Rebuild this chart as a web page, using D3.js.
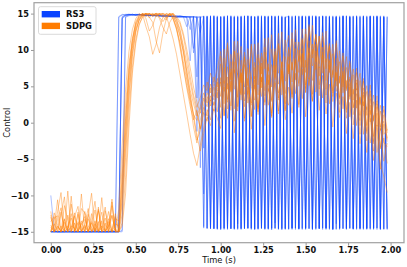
<!DOCTYPE html>
<html>
<head>
<meta charset="utf-8">
<script src="https://cdn.jsdelivr.net/npm/d3@7"></script>
<style>
  body { margin: 0; background: #fff; }
  svg { display: block; font-family: "DejaVu Sans", sans-serif; }
</style>
</head>
<body>
<script>
// time stamps (s), one sample every 0.02 s
var time = [
  0.00,0.02,0.04,0.06,0.08,0.10,0.12,0.14,0.16,0.18,
  0.20,0.22,0.24,0.26,0.28,0.30,0.32,0.34,0.36,0.38,
  0.40,0.42,0.44,0.46,0.48,0.50,0.52,0.54,0.56,0.58,
  0.60,0.62,0.64,0.66,0.68,0.70,0.72,0.74,0.76,0.78,
  0.80,0.82,0.84,0.86,0.88,0.90,0.92,0.94,0.96,0.98,
  1.00,1.02,1.04,1.06,1.08,1.10,1.12,1.14,1.16,1.18,
  1.20,1.22,1.24,1.26,1.28,1.30,1.32,1.34,1.36,1.38,
  1.40,1.42,1.44,1.46,1.48,1.50,1.52,1.54,1.56,1.58,
  1.60,1.62,1.64,1.66,1.68,1.70,1.72,1.74,1.76,1.78,
  1.80,1.82,1.84,1.86,1.88,1.90,1.92,1.94,1.96,1.98
];

// RS3 runs
var rs3A = [
  -15,-15,-15,-15,-15,-15,-15,-15,-15,-15,
  -15,-15,-15,-15,-15,-15,-15,-15,-15,-15,
  -15,14.6,14.8,14.9,14.8,14.9,14.8,14.8,14.9,14.8,
  14.8,14.7,14.8,14.7,14.8,14.7,14.7,14.6,14.7,14.6,
  14.6,14.5,10.2,14.6,1.8,14.7,-14.5,14.6,-14.6,14.7,
  -14.5,14.6,-14.7,14.5,-14.6,14.7,-14.5,14.6,-14.6,14.7,
  -14.6,14.7,-14.5,14.6,-14.7,14.6,-14.5,14.7,-14.6,14.5,
  -14.7,14.6,-14.5,14.7,-14.6,14.6,-14.5,14.7,-14.6,14.6,
  -14.5,14.7,-14.6,14.6,-14.7,14.5,-14.6,14.7,-14.5,14.6,
  -14.6,14.7,-14.5,14.6,-14.7,14.6,-14.5,14.7,-14.6,14.5
];
var rs3B = [
  -10,-14.8,-15,-15,-15,-15,-15,-15,-15,-15,
  -15,-15,-15,-15,-15,-15,-15,-15,-15,-15,
  14.5,14.8,14.9,14.9,14.8,14.8,14.9,14.8,14.7,14.8,
  14.7,14.8,14.7,14.7,14.6,14.7,14.6,14.6,14.7,14.6,
  14.5,14.6,14.5,6.3,14.6,-3.5,14.6,-14.4,14.7,-14.6,
  14.6,-14.5,14.7,-14.6,14.5,-13.9,14.6,-14.5,14.7,-14.6,
  14.6,-14.5,14.7,-14.6,14.5,-14.7,14.6,-14.5,14.6,-14.6,
  14.7,-14.5,14.6,-14.7,14.5,-14.6,14.7,-14.5,14.6,-14.6,
  14.7,-14.5,14.6,-14.7,14.6,-14.5,14.7,-14.6,14.6,-14.5,
  14.7,-14.6,14.5,-14.7,14.6,-14.5,14.7,-14.6,14.6,-14.7
];
var rs3C = [
  -15,-15,-15,-15,-15,-14.6,-15,-15,-15,-15,
  -15,-15,-15,-15,-15,-15,-15,-15,-15,-15,
  -15,-14.8,14.5,14.7,14.8,14.9,14.9,14.8,14.8,14.8,
  14.7,14.8,14.7,14.8,14.7,14.7,14.6,14.7,14.6,14.6,
  14.6,14.5,14.6,14.5,12.4,14.6,4.1,14.6,-14.6,14.5,
  -14.7,14.6,-14.5,14.7,-14.6,14.5,-14.7,14.6,-14.5,14.6,
  -14.6,14.7,-14.5,14.6,-14.6,14.7,-13.8,14.6,-14.7,14.5,
  -14.6,14.7,-14.5,14.6,-14.7,14.5,-14.6,14.7,-14.5,14.6,
  -14.7,14.6,-14.5,14.7,-14.6,14.5,-14.6,14.7,-14.5,14.6,
  -14.7,14.5,-14.6,14.7,-14.5,14.6,-14.7,14.5,-14.6,14.6
];
var rs3D = [
  -15,-14.9,-15,-15,-15,-15,-15,-15,-15,-15,
  -15,-15,-15,-15,-15,-15,-15,-15,-15,-15,
  -15,14.3,14.7,14.8,14.9,14.8,14.8,14.9,14.8,14.7,
  14.8,14.7,14.7,14.6,14.7,14.6,14.6,14.5,14.6,14.5,
  14.5,8.5,14.6,-1.2,14.5,-9.8,14.6,-14.5,14.7,-14.6,
  14.5,-14.6,14.7,-14.5,14.6,-14.7,14.5,-14.6,14.7,-14.5,
  14.6,-14.6,14.5,-14.7,14.6,-14.5,14.7,-14.6,14.5,-14.7,
  14.6,-14.5,14.7,-14.6,14.6,-14.5,14.7,-14.7,14.5,-14.6,
  14.6,-14.5,14.7,-14.6,14.5,-14.7,14.6,-14.5,14.7,-14.6,
  14.5,-14.6,14.7,-14.5,14.6,-14.7,14.6,-14.5,14.7,-14.6
];
var rs3E = [
  -15,-15,-15,-15,-15,-15,-15,-15,-15,-15,
  -15,-15,-15,-14.7,-15,-15,-15,-15,-15,-15,
  -15,14.4,14.8,14.9,14.9,14.8,14.9,14.8,14.8,14.7,
  14.8,14.8,14.7,14.7,14.6,14.7,14.6,14.6,14.5,14.6,
  14.5,14.6,14.5,14.6,14.5,14.6,-14.6,14.7,-14.5,14.6,
  -14.7,14.5,-14.6,14.7,-14.5,14.6,-14.6,14.7,-14.5,14.6,
  -14.7,14.6,-14.5,14.6,-14.6,14.7,-14.5,14.6,-14.7,14.5,
  14.6,-14.6,14.7,-14.5,14.6,-14.7,14.5,-14.6,14.7,-14.5,
  14.6,-14.6,14.5,-14.7,14.6,-14.5,14.7,-14.6,14.5,-14.7,
  14.6,-14.5,14.7,-14.6,14.6,-14.5,14.7,-14.6,14.5,-14.7
];
var rs3F = [
  -15,-15,-15,-15,-15,-15,-15,-15,-15,-15,
  -15,-15,-15,-15,-15,-15,-15,-15,-14.8,-15,
  14.6,14.9,14.8,14.9,14.8,14.8,14.8,14.9,14.7,14.8,
  14.7,14.7,14.8,14.6,14.7,14.6,14.7,14.5,14.6,14.5,
  14.6,14.5,14.6,14.4,14.6,-14.5,14.7,-14.6,14.5,-14.7,
  14.6,-14.5,14.7,-14.6,14.5,-14.6,14.7,-14.5,14.6,-14.7,
  14.5,-14.6,14.7,-14.5,14.6,-14.7,14.5,-14.6,14.7,-14.5,
  14.6,-14.7,14.5,-14.6,14.7,-14.5,14.6,-14.6,14.7,-14.5,
  14.6,-14.7,14.5,-14.6,14.7,-14.5,14.6,-14.7,14.5,-14.6,
  14.7,-14.5,14.6,-14.6,14.7,-14.5,14.6,-14.7,14.5,-14.6
];
var rs3G = [
  -15,-15,-15,-15,-15,-15,-15,-15,-15,-15,
  -15,-15,-15,-15,-15,-15,-15,-15,-15,-15,
  -15,-15,14.6,14.8,14.9,14.8,14.9,14.8,14.7,14.8,
  14.7,14.7,14.8,14.6,14.7,14.6,14.6,14.7,14.5,14.6,
  13.2,14.6,9.6,14.5,-6.2,14.6,-14.5,14.7,-14.6,14.5,
  -14.6,14.7,-14.5,14.6,-14.7,14.5,-14.6,14.7,-14.5,14.6,
  -14.7,14.5,-14.6,14.7,-14.5,14.6,-14.6,14.7,-14.5,14.6,
  -14.6,14.5,-14.7,14.6,-14.5,14.7,-14.6,14.5,-14.7,14.6,
  -14.5,14.6,-14.7,14.5,-13.9,14.7,-14.5,14.6,-14.6,14.7,
  -14.5,14.6,-14.7,14.5,-14.6,14.7,-14.5,14.6,-14.7,14.6
];
var rs3H = [
  -15,-15,-15,-15,-15,-15,-15,-15,-15,-15,
  -15,-15,-15,-15,-15,-15,-15,-15,-15,-15,
  -15,14.5,14.8,14.8,14.9,14.8,14.9,14.8,14.8,14.7,
  14.8,14.7,14.6,14.7,14.7,14.6,14.6,14.5,14.6,14.6,
  14.5,12.8,14.6,3.4,14.5,-14.3,14.6,-14.6,14.7,-14.5,
  14.6,-14.7,14.5,-14.6,14.7,-14.5,14.6,-14.6,14.7,-14.5,
  14.6,-14.7,14.5,-14.6,14.7,-14.5,14.6,-14.7,14.5,-14.6,
  14.7,-14.5,14.6,-14.6,14.7,-14.5,14.6,-14.7,14.5,-14.6,
  14.7,-14.5,14.6,-14.7,14.5,-14.6,14.7,-14.5,14.6,-14.6,
  14.5,-14.7,14.6,-14.5,14.7,-14.6,14.5,-14.7,14.6,-14.5
];

// SDPG runs
var sdpgA = [
  -15,-13.1,-12.8,-15,-14.6,-14.2,-15,-12.9,-11.5,-15,
  -14.3,-15,-13.6,-15,-11.9,-15,-12.1,-14.4,-15,-13.2,
  -13.5,-5.8,2.4,8.1,11.6,13.7,14.6,15,15,14.8,
  15,14.6,15,14.9,14.4,15,14.2,12.8,11.1,8.4,
  5.9,3.2,1.1,0.3,1.6,3.4,2.2,4.8,3.1,5.6,
  2.1,7.6,3.2,8.4,1.9,6.8,4.0,9.1,2.7,6.2,
  1.8,7.9,3.6,8.8,2.4,6.1,9.3,3.4,7.2,1.6,
  8.1,3.9,10.2,5.0,9.6,4.1,11.3,5.8,9.0,3.7,
  10.4,4.6,8.7,2.9,7.8,3.5,7.1,1.4,6.3,2.0,
  5.9,0.3,4.8,-1.2,3.9,-2.6,2.2,-3.4,1.1,-2.3
];
var sdpgB = [
  -15,-13.9,-15,-12.6,-10.2,-15,-14.2,-14.5,-15,-11.8,
  -12.4,-15,-13.8,-15,-14.1,-12.3,-15,-13.2,-15,-14.6,
  -15,-10.4,-2.1,5.3,10.2,12.9,14.1,14.8,15,14.5,
  13.8,11.2,9.6,12.4,14.3,14.8,15,14.1,12.6,10.2,
  7.1,4.0,1.2,-1.8,-3.9,-1.5,0.8,-0.4,1.9,0.6,
  -0.8,4.9,0.6,5.7,-1.4,3.8,6.6,0.2,4.4,-0.9,
  5.2,1.1,6.3,-0.4,4.7,0.9,5.8,1.6,7.1,0.4,
  4.9,1.3,6.8,2.1,7.4,0.8,6.2,2.9,8.0,1.7,
  6.5,1.2,5.3,-0.6,4.1,0.7,3.6,-1.5,2.8,-2.2,
  3.1,-2.9,1.4,-4.1,0.6,-5.2,-1.3,-6.4,-2.1,-5.6
];
var sdpgC = [
  -14.1,-15,-12.2,-9.6,-15,-14.4,-13.1,-15,-12.6,-15,
  -13.9,-11.8,-15,-14.5,-15,-13.7,-11.6,-15,-10.9,-15,
  -11.9,-3.1,4.6,9.8,12.8,14.3,15,14.7,15,15,
  14.8,15,14.6,15,14.9,14.7,15,14.4,13.6,11.9,
  9.3,6.4,3.8,2.1,3.5,5.2,4.4,6.8,5.5,7.4,
  9.8,4.3,10.6,5.9,11.2,6.4,3.8,9.7,5.1,10.8,
  4.6,9.4,6.7,11.6,5.2,10.1,7.0,12.3,6.1,9.9,
  12.0,7.3,11.1,8.6,12.9,7.6,13.2,9.4,11.8,8.1,
  12.4,7.4,10.9,6.2,11.3,5.4,9.6,4.8,8.2,3.9,
  7.5,2.6,6.1,1.8,5.2,0.4,3.7,-0.6,2.3,-1.1
];
var sdpgD = [
  -12.2,-15,-14.3,-15,-11.4,-13.4,-15,-12.8,-15,-9.8,
  -15,-13.2,-15,-14.3,-12.1,-15,-14.6,-15,-12.7,-15,
  -15,-12.6,-4.8,3.2,9.1,12.4,14.2,15,14.6,15,
  14.7,15,14.5,13.9,14.6,13.2,11.5,9.4,6.7,3.9,
  1.2,-1.6,-4.2,-5.9,-3.1,-0.7,1.8,0.4,2.9,1.5,
  6.2,0.9,5.4,1.7,7.3,2.2,6.8,0.6,4.9,2.4,
  7.6,1.9,6.2,2.8,8.1,3.1,5.5,1.2,7.4,3.6,
  2.4,8.3,4.0,9.2,3.3,8.6,5.1,10.1,4.2,7.7,
  3.4,8.8,2.6,7.2,4.3,6.4,1.9,5.8,0.8,4.6,
  -0.4,3.5,-1.6,2.2,-2.8,1.0,-4.1,-0.8,-5.3,-2.8
];
var sdpgE = [
  -15,-12.4,-14.1,-15,-13.3,-15,-11.2,-14.7,-15,-13.5,
  -15,-12.8,-9.7,-15,-13.6,-15,-14.4,-12.2,-15,-13.9,
  -14.2,-7.4,0.6,6.9,11.3,13.5,14.4,14.9,13.2,11.8,
  9.4,10.8,13.1,14.5,15,14.7,14.9,13.5,11.9,9.7,
  7.2,4.5,2.6,0.9,2.2,4.1,2.7,5.3,3.6,6.1,
  3.6,8.9,2.8,7.4,4.6,9.6,3.1,8.0,5.2,2.7,
  8.3,3.8,9.1,4.4,7.6,2.9,9.8,5.3,8.4,4.0,
  10.1,5.6,8.8,6.9,11.4,5.2,10.3,7.8,12.1,6.4,
  9.7,5.8,10.6,4.1,8.9,3.3,7.7,4.6,6.0,2.1,
  5.5,1.0,4.2,-0.4,3.3,-1.9,2.6,-1.1,0.2,-2.1
];
var sdpgF = [
  -13.6,-12.9,-15,-14.2,-15,-12.7,-14.6,-15,-12.3,-15,
  -14.1,-15,-13.4,-10.8,-15,-14.2,-15,-13.6,-15,-12.5,
  -15,-13.8,-7.5,1.4,7.6,11.4,13.6,14.5,15,14.8,
  15,14.7,14.9,15,14.6,15,14.8,14.2,12.9,10.6,
  8.2,5.6,3.3,1.4,-0.8,1.5,3.6,2.3,4.9,3.4,
  8.1,2.6,7.7,4.4,9.9,3.5,8.6,4.9,10.2,5.0,
  3.1,8.9,5.6,10.4,4.3,8.0,6.2,10.9,3.8,9.1,
  6.7,11.5,5.9,10.0,7.6,12.2,6.0,10.8,8.4,11.9,
  6.8,10.7,7.3,9.5,5.0,8.4,4.1,7.6,3.2,6.6,
  2.0,5.8,1.4,4.3,0.1,2.9,-1.3,1.6,-2.7,-3.3
];
var sdpgG = [
  -14.4,-15,-13.3,-11.7,-15,-14.6,-12.5,-15,-13.8,-15,
  -12.2,-14.2,-15,-13.5,-15,-10.3,-15,-14.1,-12.8,-14.8,
  -15,-9.2,-1.4,6.2,10.6,13.2,14.7,15,14.8,15,
  14.6,15,14.3,13.1,12.2,13.8,14.6,13.8,12.1,9.8,
  6.4,3.7,0.8,-2.4,-1.1,1.4,0.2,3.1,1.6,4.2,
  0.6,5.8,1.9,6.9,0.2,4.6,7.4,2.2,6.1,0.9,
  6.4,1.5,7.7,2.4,5.9,0.7,7.2,3.1,8.3,1.8,
  7.9,3.3,8.6,2.5,9.4,4.2,8.7,3.0,9.9,4.6,
  8.6,2.7,7.9,3.6,6.8,1.4,6.5,0.6,4.9,-0.3,
  4.0,-1.6,2.9,-2.5,1.7,-3.9,-0.3,-5.6,-7.4,-9.6
];
var sdpgH = [
  -15,-14.2,-10.6,-15,-13.7,-15,-14.4,-12.4,-15,-13.9,
  -13.3,-15,-12.5,-15,-11.6,-15,-13.8,-15,-14.6,-12.9,
  -15,-11.1,-3.6,4.1,9.5,12.6,14.1,14.8,15,14.4,
  14.9,15,15,14.6,15,14.9,14.3,13.1,10.8,7.6,
  4.8,2.3,0.4,1.7,-0.9,2.6,4.1,3.0,5.4,4.3,
  5.2,10.1,4.6,9.4,6.8,11.2,5.5,9.0,3.9,10.5,
  6.0,11.0,4.8,9.7,7.1,12.1,5.9,10.6,7.5,11.4,
  7.0,12.4,8.2,11.1,6.6,12.9,8.8,13.4,7.3,11.9,
  8.7,12.6,6.9,10.8,5.7,9.9,4.9,9.1,3.6,7.4,
  4.5,6.8,2.3,5.1,1.1,3.8,-0.5,2.4,-1.6,-0.9
];
var sdpgI = [
  -12.7,-15,-14.2,-15,-13.2,-15,-10.1,-15,-13.6,-14.3,
  -15,-12.6,-15,-13.9,-15,-14.5,-13.1,-15,-11.4,-15,
  -14.6,-8.3,0.2,7.3,11.2,13.9,14.8,15,14.3,12.6,
  13.4,14.8,15,14.6,14.1,15,14.5,12.9,10.4,7.8,
  5.1,2.9,-0.6,-2.8,0.4,2.1,0.9,3.7,2.4,4.6,
  5.6,1.0,6.3,2.3,8.4,1.6,6.9,3.0,7.6,0.8,
  5.9,2.1,8.2,3.7,6.6,1.3,7.9,4.1,6.2,2.6,
  9.1,3.5,8.3,5.4,10.2,4.7,9.6,3.9,10.8,5.2,
  9.3,3.8,8.5,4.4,7.0,2.5,6.9,1.8,5.4,1.1,
  4.7,-0.4,3.8,-1.5,2.4,-2.9,1.3,-3.6,-0.2,-2.6
];
var sdpgJ = [
  -13.0,-15,-14.6,-12.3,-15,-9.4,-15,-13.8,-15,-14.0,
  -12.9,-15,-14.4,-12.0,-15,-13.5,-15,-14.2,-10.5,-15,
  -15,-14.2,-9.8,-0.6,6.8,10.9,13.4,14.6,15,15,
  14.8,15,14.9,15,14.7,15,15,14.6,13.9,12.3,
  10.1,7.6,4.9,2.8,1.3,3.2,5.6,4.1,6.3,4.9,
  9.2,5.4,11.0,4.2,9.8,6.6,10.5,3.9,8.7,6.1,
  10.8,5.2,9.6,7.4,11.7,4.9,10.2,6.8,12.5,5.7,
  10.4,7.2,12.8,8.4,11.6,6.9,13.5,8.9,12.2,7.5,
  11.9,8.3,10.5,6.6,10.9,5.5,9.2,4.4,8.5,3.1,
  6.9,2.4,5.7,1.0,4.4,0.2,3.0,-1.0,1.8,-1.4
];

var rs3Runs = [rs3A, rs3B, rs3C, rs3D, rs3E, rs3F, rs3G, rs3H];
var sdpgRuns = [sdpgA, sdpgB, sdpgC, sdpgD, sdpgE, sdpgF, sdpgG, sdpgH, sdpgI, sdpgJ];

var seriesNames = ["RS3", "SDPG"];
var seriesColors = ["#0a44ff", "#ff7c00"];

var xTicks = [0, 0.25, 0.5, 0.75, 1.0, 1.25, 1.5, 1.75, 2.0];
var xTickLabels = ["0.00", "0.25", "0.50", "0.75", "1.00", "1.25", "1.50", "1.75", "2.00"];
var yTicks = [-15, -10, -5, 0, 5, 10, 15];
var yTickLabels = ["\u221215", "\u221210", "\u22125", "0", "5", "10", "15"];

var width = 407, height = 267;
// plot area edges (window.top is reserved, so prefixed names)
var plotLeft = 34, plotRight = 404, plotTop = 2.7, plotBottom = 242.7;

var svg = d3.select("body")
  .append("svg")
    .attr("width", width)
    .attr("height", height);

var x = d3.scaleLinear()
  .domain([-0.099, 2.079])
  .range([plotLeft, plotRight]);

var y = d3.scaleLinear()
  .domain([-16.5, 16.5])
  .range([plotBottom, plotTop]);

var line = d3.line()
  .x(function(d, i){ return x(time[i]); })
  .y(function(d){ return y(d); });

// RS3 first, SDPG drawn over it
svg.append("g")
  .selectAll("path")
  .data(rs3Runs)
  .enter()
  .append("path")
    .attr("d", line)
    .attr("fill", "none")
    .attr("stroke", seriesColors[0])
    .attr("stroke-opacity", 0.33)
    .attr("stroke-width", 1);

svg.append("g")
  .selectAll("path")
  .data(sdpgRuns)
  .enter()
  .append("path")
    .attr("d", line)
    .attr("fill", "none")
    .attr("stroke", seriesColors[1])
    .attr("stroke-opacity", 0.4)
    .attr("stroke-width", 1);

// axes
svg.append("g")
  .attr("transform", "translate(0," + plotBottom + ")")
  .call(d3.axisBottom(x)
    .tickValues(xTicks)
    .tickFormat(function(d, i){ return xTickLabels[i]; })
    .tickSizeInner(3)
    .tickSizeOuter(0)
    .tickPadding(1.5));

svg.append("g")
  .attr("transform", "translate(" + plotLeft + ",0)")
  .call(d3.axisLeft(y)
    .tickValues(yTicks)
    .tickFormat(function(d, i){ return yTickLabels[i]; })
    .tickSizeInner(3)
    .tickSizeOuter(0)
    .tickPadding(2));

svg.selectAll(".domain").remove();
svg.selectAll(".tick line").attr("stroke", "#999");
svg.selectAll(".tick text")
  .attr("font-family", "DejaVu Sans")
  .attr("font-size", 8.2)
  .attr("font-weight", "bold")
  .attr("fill", "#111");

// frame (all four spines)
svg.append("rect")
  .attr("x", plotLeft)
  .attr("y", plotTop)
  .attr("width", plotRight - plotLeft)
  .attr("height", plotBottom - plotTop)
  .attr("fill", "none")
  .attr("stroke", "#a0a0a0")
  .attr("stroke-width", 1.2);

// axis labels
svg.append("text")
  .attr("x", (plotLeft + plotRight) / 2)
  .attr("y", 263)
  .attr("text-anchor", "middle")
  .attr("font-size", 8.3)
  .attr("fill", "#111")
  .text("Time (s)");

svg.append("text")
  .attr("transform", "translate(10," + ((plotTop + plotBottom) / 2) + ") rotate(-90)")
  .attr("text-anchor", "middle")
  .attr("font-size", 8.3)
  .attr("fill", "#111")
  .text("Control");

// legend
var legend = svg.append("g");
legend.append("rect")
  .attr("x", 38.5)
  .attr("y", 6.7)
  .attr("width", 57.5)
  .attr("height", 27.6)
  .attr("rx", 2)
  .attr("fill", "#fff")
  .attr("fill-opacity", 0.85)
  .attr("stroke", "#d0d0d0")
  .attr("stroke-width", 0.8);

var items = legend.selectAll(".item")
  .data(seriesNames)
  .enter()
  .append("g")
    .attr("class", "item")
    .attr("transform", function(d, i){ return "translate(0," + (i * 11.7) + ")"; });

items.append("rect")
  .attr("x", 41.7)
  .attr("y", 11)
  .attr("width", 18.3)
  .attr("height", 6.4)
  .attr("fill", function(d, i){ return seriesColors[i]; });

items.append("text")
  .attr("x", 66)
  .attr("y", 17.4)
  .attr("font-size", 8.4)
  .attr("font-weight", "bold")
  .attr("fill", "#111")
  .text(function(d){ return d; });
</script>
</body>
</html>
